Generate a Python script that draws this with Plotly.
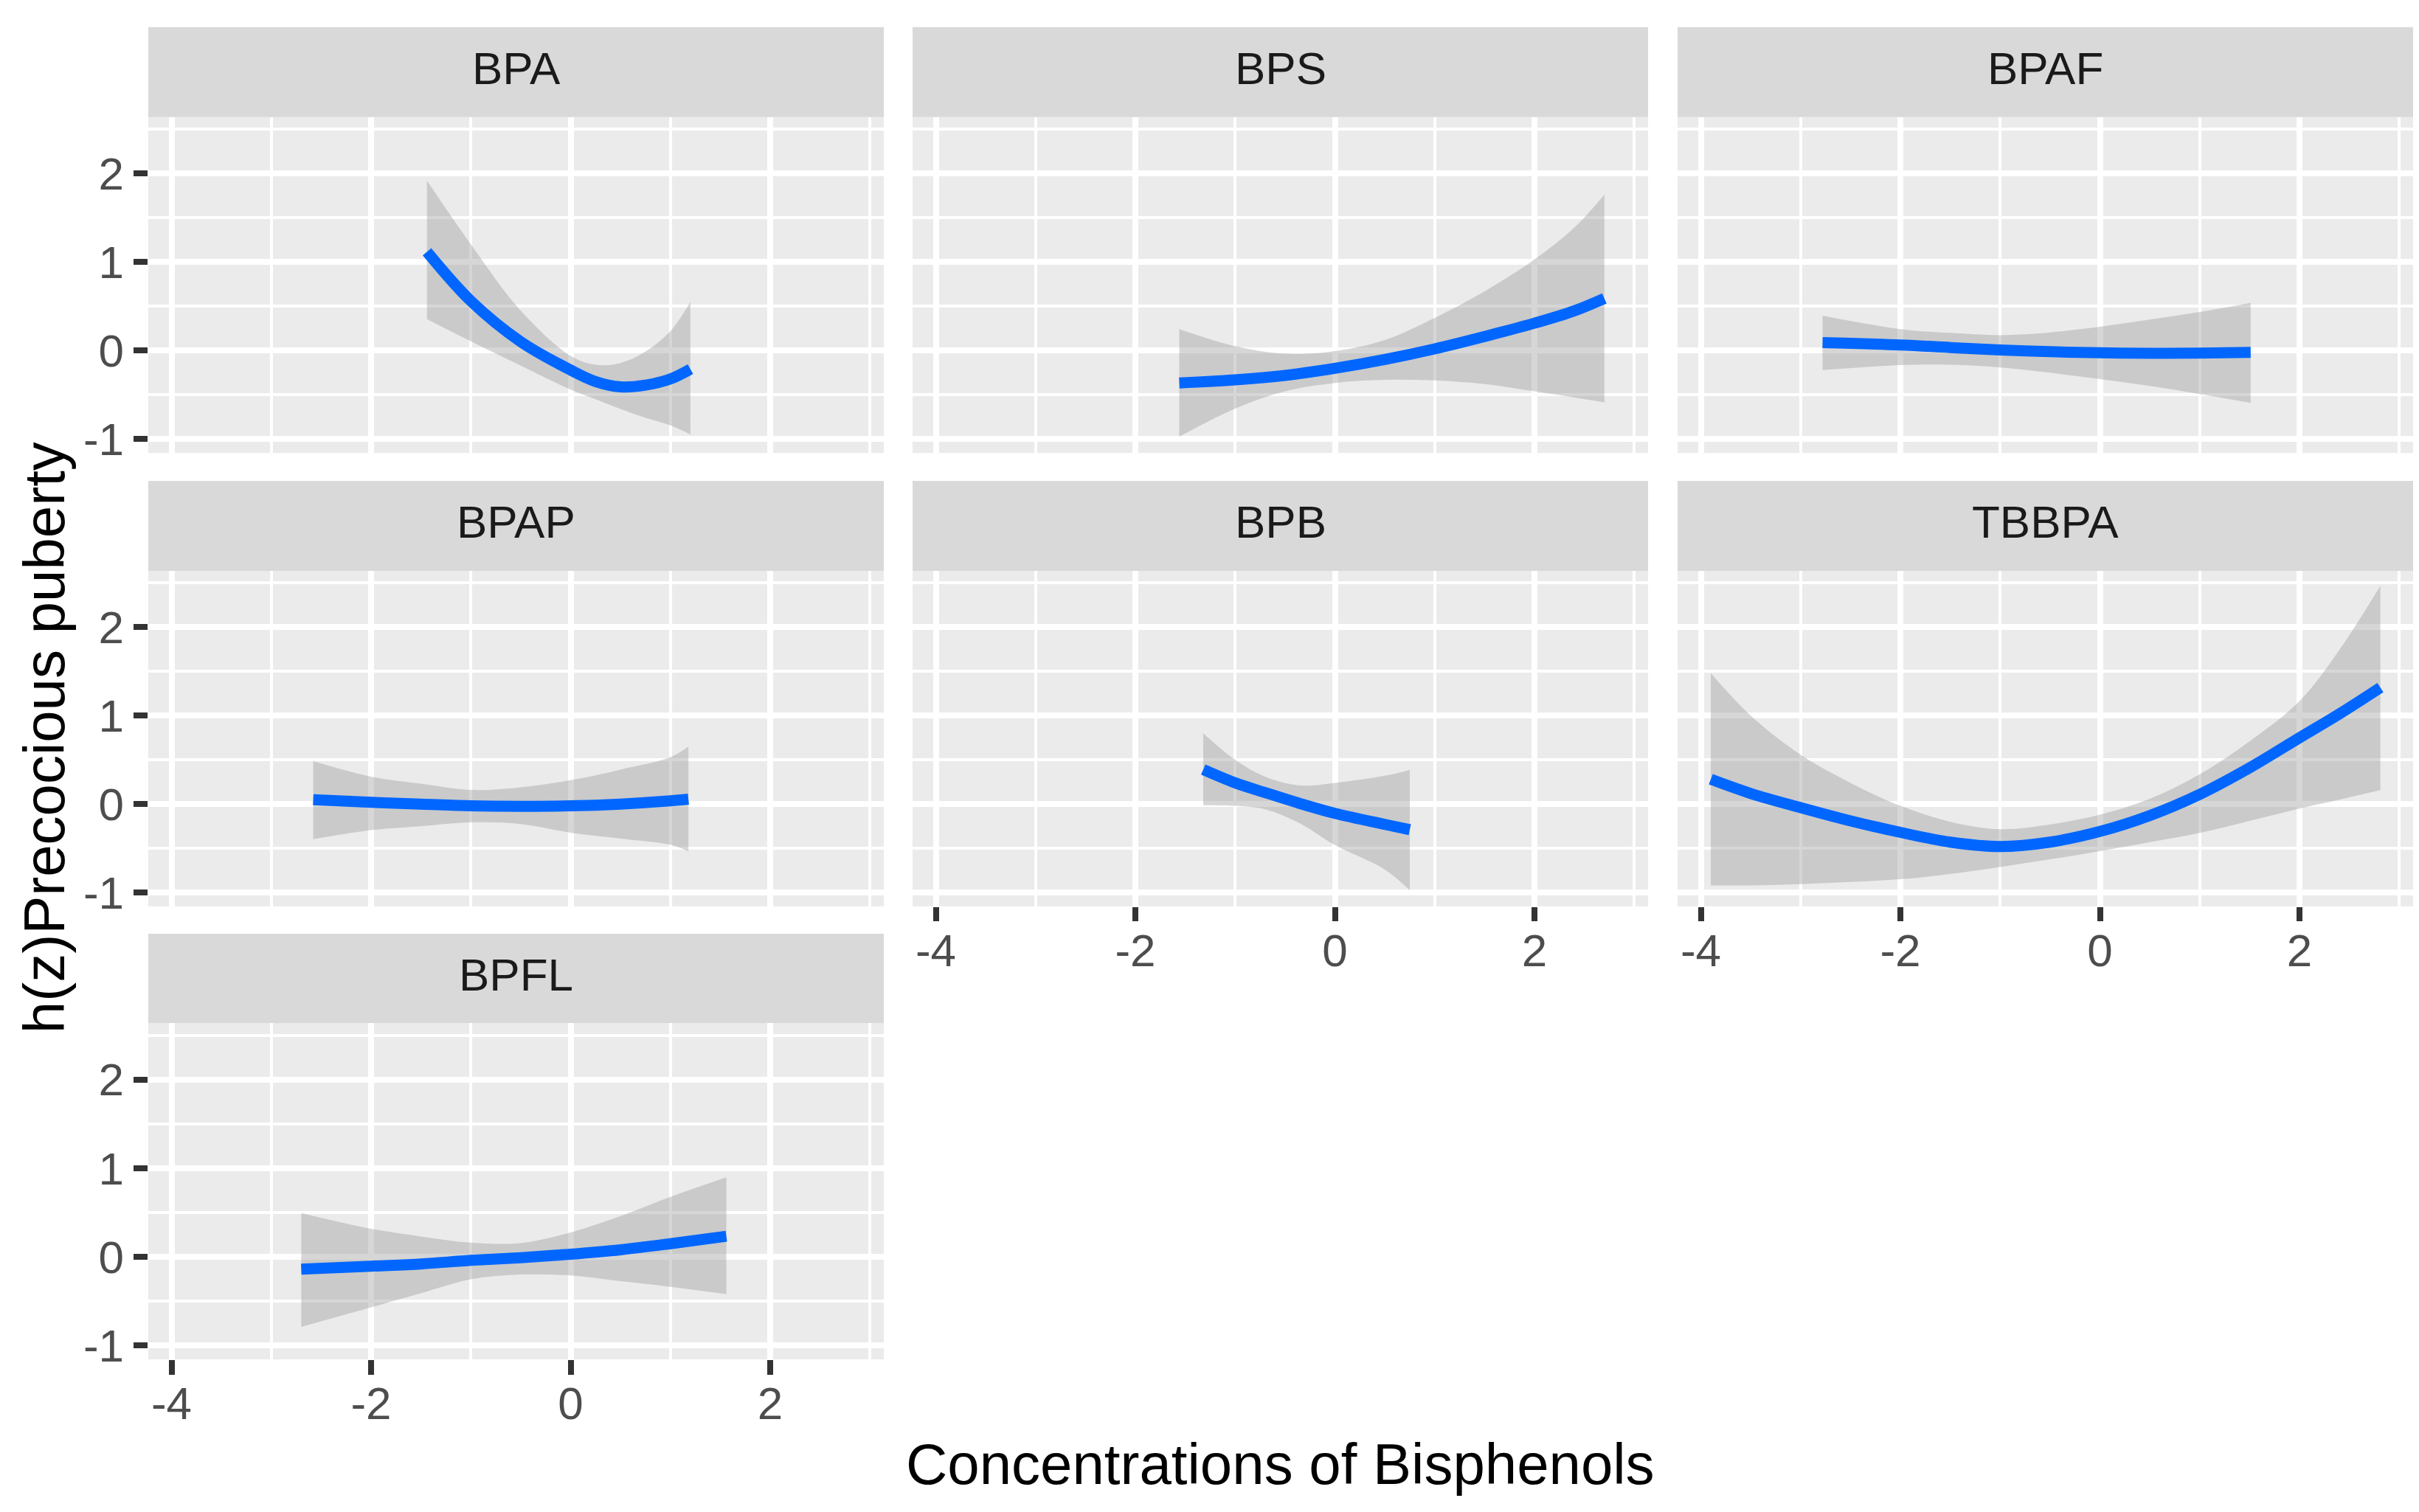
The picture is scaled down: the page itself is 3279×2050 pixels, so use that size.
import plotly.graph_objects as go

W, H = 3279, 2050

# ---------------- data ----------------
panel_names = ["BPA", "BPS", "BPAF", "BPAP", "BPB", "TBBPA", "BPFL"]

bpa_x = [-1.44, -1.0, -0.5, 0.0, 0.25, 0.5, 0.75, 1.0, 1.2]
bpa_mid = [1.116, 0.56, 0.10, -0.22, -0.35, -0.41, -0.39, -0.32, -0.21]
bpa_up = [1.92, 1.20, 0.45, -0.06, -0.16, -0.14, -0.01, 0.22, 0.55]
bpa_lo = [0.355, 0.105, -0.17, -0.44, -0.55, -0.66, -0.76, -0.845, -0.947]

bps_x = [-1.56, -1.0, -0.5, 0.0, 0.5, 1.0, 1.5, 2.0, 2.4, 2.7]
bps_mid = [-0.365, -0.33, -0.28, -0.20, -0.10, 0.02, 0.16, 0.31, 0.45, 0.59]
bps_up = [0.243, 0.05, -0.035, -0.005, 0.12, 0.37, 0.67, 1.03, 1.39, 1.76]
bps_lo = [-0.972, -0.655, -0.46, -0.365, -0.33, -0.337, -0.378, -0.46, -0.53, -0.585]

bpaf_x = [-2.78, -2.0, -1.5, -1.0, -0.5, 0.0, 0.5, 1.0, 1.51]
bpaf_mid = [0.09, 0.064, 0.035, 0.008, -0.012, -0.025, -0.03, -0.028, -0.02]
bpaf_up = [0.395, 0.243, 0.20, 0.174, 0.205, 0.27, 0.35, 0.436, 0.54]
bpaf_lo = [-0.22, -0.163, -0.16, -0.19, -0.25, -0.323, -0.40, -0.49, -0.59]

bpap_x = [-2.58, -2.0, -1.5, -1.0, -0.5, 0.0, 0.5, 1.0, 1.18]
bpap_mid = [0.05, 0.02, 0.0, -0.02, -0.025, -0.02, 0.0, 0.036, 0.055]
bpap_up = [0.485, 0.31, 0.23, 0.16, 0.19, 0.27, 0.39, 0.53, 0.65]
bpap_lo = [-0.397, -0.295, -0.25, -0.207, -0.226, -0.323, -0.39, -0.46, -0.535]

bpb_x = [-1.32, -1.0, -0.7, -0.35, 0.0, 0.5, 0.75]
bpb_mid = [0.39, 0.24, 0.13, 0.006, -0.105, -0.23, -0.29]
bpb_up = [0.80, 0.50, 0.31, 0.21, 0.24, 0.32, 0.386]
bpb_lo = [-0.014, -0.02, -0.06, -0.22, -0.464, -0.74, -0.974]

tbbpa_x = [-3.9, -3.5, -3.0, -2.5, -2.0, -1.5, -1.0, -0.5, 0.0, 0.5, 1.0, 1.5, 2.0, 2.4, 2.81]
tbbpa_mid = [0.28, 0.12, -0.04, -0.19, -0.32, -0.43, -0.48, -0.43, -0.31, -0.13, 0.11, 0.41, 0.75, 1.02, 1.317]
tbbpa_up = [1.48, 1.0, 0.558, 0.24, -0.02, -0.20, -0.284, -0.23, -0.12, 0.06, 0.337, 0.71, 1.165, 1.745, 2.468]
tbbpa_lo = [-0.92, -0.92, -0.905, -0.88, -0.85, -0.79, -0.712, -0.625, -0.533, -0.43, -0.326, -0.19, -0.05, 0.05, 0.157]

bpfl_x = [-2.7, -2.0, -1.5, -1.0, -0.5, 0.0, 0.5, 1.0, 1.56]
bpfl_mid = [-0.14, -0.105, -0.08, -0.04, -0.01, 0.03, 0.08, 0.148, 0.232]
bpfl_up = [0.494, 0.317, 0.23, 0.16, 0.155, 0.275, 0.46, 0.676, 0.896]
bpfl_lo = [-0.79, -0.57, -0.41, -0.253, -0.2, -0.21, -0.275, -0.338, -0.42]

x_tick_vals = [-4, -2, 0, 2]
x_tick_text = ["-4", "-2", "0", "2"]
x_minor_vals = [-3, -1, 1, 3]
y_tick_vals = [-1, 0, 1, 2]
y_tick_text = ["-1", "0", "1", "2"]
y_minor_vals = [-0.5, 0.5, 1.5, 2.5]

x_title = "Concentrations of Bisphenols"
y_title = "h(z)Precocious puberty"

series = [
    (bpa_x, bpa_mid, bpa_up, bpa_lo),
    (bps_x, bps_mid, bps_up, bps_lo),
    (bpaf_x, bpaf_mid, bpaf_up, bpaf_lo),
    (bpap_x, bpap_mid, bpap_up, bpap_lo),
    (bpb_x, bpb_mid, bpb_up, bpb_lo),
    (tbbpa_x, tbbpa_mid, tbbpa_up, tbbpa_lo),
    (bpfl_x, bpfl_mid, bpfl_up, bpfl_lo),
]

# ---------------- layout geometry (pixels) ----------------
X_RANGE = [-4.233, 3.138]
Y_RANGE = [-1.157, 2.637]
col_px = [(193, 1190), (1229, 2226), (2266, 3263)]
row_px = [(29, 152, 611), (649, 772, 1230.5), (1268, 1390, 1849.5)]  # strip top, panel top, panel bottom
pos = [(0, 0), (0, 1), (0, 2), (1, 0), (1, 1), (1, 2), (2, 0)]
x_labels_on = [False, False, False, False, True, True, True]

FONT = "Liberation Sans, Arial, Helvetica, sans-serif"
TICK_SIZE = 62
STRIP_SIZE = 62
TITLE_SIZE = 78
MAJOR_W = 7.5
MINOR_W = 3.8

BLUE = "#0066FF"
RIBBON = "rgba(153,153,153,0.4)"
SMOOTH = 1.0

fig = go.Figure()
layout = dict(
    width=W, height=H,
    margin=dict(l=0, r=0, t=0, b=0),
    paper_bgcolor="white",
    plot_bgcolor="#EBEBEB",
    showlegend=False,
    font=dict(family=FONT, size=TICK_SIZE, color="#4D4D4D"),
    shapes=[], annotations=[],
)


def px2x(p):
    return p / W


def px2y(p):
    return 1 - p / H


for i, (name, (xs, mid, up, lo)) in enumerate(zip(panel_names, series)):
    r, c = pos[i]
    n = i + 1
    xa = "x" if n == 1 else f"x{n}"
    ya = "y" if n == 1 else f"y{n}"
    x0, x1 = col_px[c]
    st, pt, pb = row_px[r]

    layout[f"xaxis{'' if n == 1 else n}"] = dict(
        domain=[px2x(x0), px2x(x1)], anchor=ya, range=X_RANGE,
        tickmode="array", tickvals=x_tick_vals, ticktext=x_tick_text,
        showticklabels=x_labels_on[i], ticklabelstandoff=-14,
        ticks="outside" if x_labels_on[i] else "", ticklen=19.5, tickwidth=MAJOR_W, tickcolor="#333333",
        tickfont=dict(family=FONT, size=TICK_SIZE, color="#4D4D4D"),
        showgrid=True, gridcolor="white", gridwidth=MAJOR_W,
        minor=dict(tickmode="array", tickvals=x_minor_vals, showgrid=True, gridcolor="white",
                   gridwidth=MINOR_W, ticks=""),
        zeroline=False, showline=False, fixedrange=True,
    )
    layout[f"yaxis{'' if n == 1 else n}"] = dict(
        domain=[px2y(pb), px2y(pt)], anchor=xa, range=Y_RANGE,
        tickmode="array", tickvals=y_tick_vals, ticktext=y_tick_text,
        showticklabels=(c == 0),
        ticks="outside" if c == 0 else "", ticklen=19.5, tickwidth=MAJOR_W, tickcolor="#333333",
        tickfont=dict(family=FONT, size=TICK_SIZE, color="#4D4D4D"),
        showgrid=True, gridcolor="white", gridwidth=MAJOR_W,
        minor=dict(tickmode="array", tickvals=y_minor_vals, showgrid=True, gridcolor="white",
                   gridwidth=MINOR_W, ticks=""),
        zeroline=False, showline=False, fixedrange=True,
    )

    # ribbon: lower bound, then upper bound filled to it
    fig.add_trace(go.Scatter(
        x=xs, y=lo, xaxis=xa, yaxis=ya, mode="lines",
        line=dict(width=0, color="rgba(0,0,0,0)", shape="spline", smoothing=SMOOTH),
        hoverinfo="skip",
    ))
    fig.add_trace(go.Scatter(
        x=xs, y=up, xaxis=xa, yaxis=ya, mode="lines", fill="tonexty", fillcolor=RIBBON,
        line=dict(width=0, color="rgba(0,0,0,0)", shape="spline", smoothing=SMOOTH),
        hoverinfo="skip",
    ))
    # estimate line
    fig.add_trace(go.Scatter(
        x=xs, y=mid, xaxis=xa, yaxis=ya, mode="lines",
        line=dict(color=BLUE, width=15, shape="spline", smoothing=SMOOTH),
    ))

    # strip
    layout["shapes"].append(dict(
        type="rect", xref="paper", yref="paper",
        x0=px2x(x0), x1=px2x(x1), y0=px2y(pt), y1=px2y(st),
        fillcolor="#D9D9D9", line=dict(width=0), layer="below",
    ))
    layout["annotations"].append(dict(
        text=name, xref="paper", yref="paper",
        x=px2x((x0 + x1) / 2), y=px2y((st + pt) / 2 - 5),
        xanchor="center", yanchor="middle", showarrow=False,
        font=dict(family=FONT, size=STRIP_SIZE, color="#1A1A1A"),
    ))

# axis titles
layout["annotations"].append(dict(
    text=x_title, xref="paper", yref="paper",
    x=px2x(1728), y=px2y(1993), xanchor="center", yanchor="middle", showarrow=False,
    font=dict(family=FONT, size=TITLE_SIZE, color="black"),
))
layout["annotations"].append(dict(
    text=y_title, xref="paper", yref="paper",
    x=px2x(52), y=px2y(1000), xanchor="center", yanchor="middle", showarrow=False,
    textangle=-90,
    font=dict(family=FONT, size=TITLE_SIZE, color="black"),
))

fig.update_layout(**layout)
fig.write_html("out.html")
